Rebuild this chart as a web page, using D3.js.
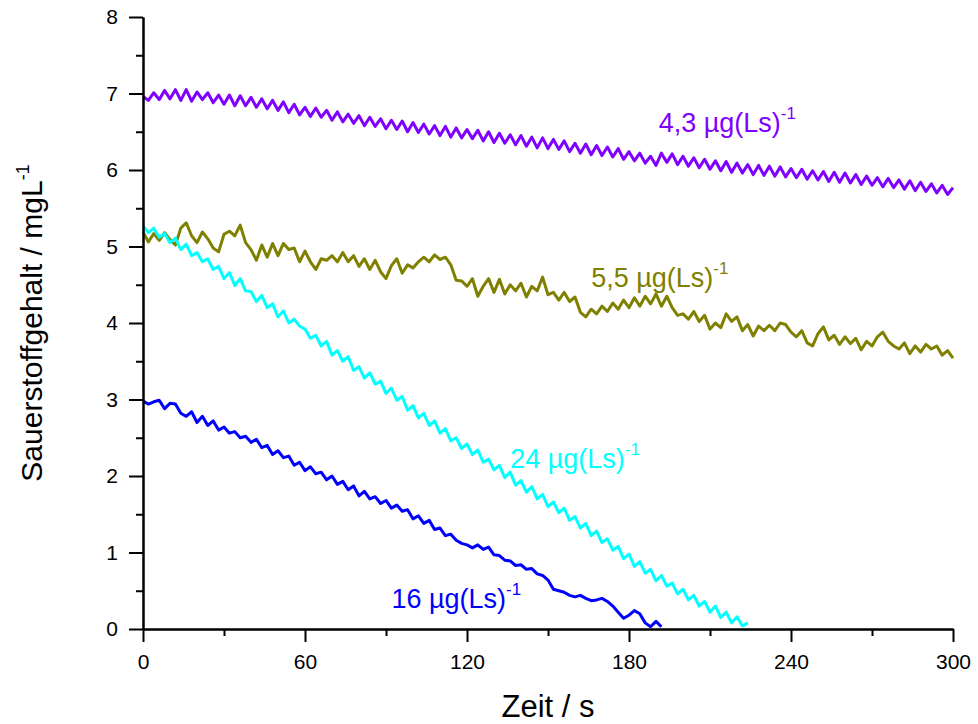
<!DOCTYPE html>
<html>
<head>
<meta charset="utf-8">
<script src="https://cdn.jsdelivr.net/npm/d3@7"></script>
<style>
  body { margin: 0; background: #fff; }
  svg { display: block; font-family: Arial, "Liberation Sans", sans-serif; }
</style>
</head>
<body>
<svg id="chart" width="978" height="724"></svg>
<script>
// time step of the recorded series (seconds)
const tStep = 2;

const xTicks = [0, 60, 120, 180, 240, 300];
const xMinor = [30, 90, 150, 210, 270];
const yTicks = [0, 1, 2, 3, 4, 5, 6, 7, 8];
const yMinor = [0.5, 1.5, 2.5, 3.5, 4.5, 5.5, 6.5, 7.5];

// 4,3 µg(Ls)-1
const o2_43 = [6.96, 6.91, 7.01, 6.92, 7.04, 6.93, 7.05, 6.91, 7.05, 6.90, 7.02, 6.92, 7.01, 6.88, 6.98, 6.86,
  6.98, 6.84, 6.97, 6.84, 6.95, 6.82, 6.93, 6.80, 6.91, 6.78, 6.89, 6.75, 6.86, 6.72, 6.82, 6.70, 6.81, 6.69,
  6.78, 6.65, 6.76, 6.63, 6.73, 6.61, 6.71, 6.58, 6.69, 6.57, 6.67, 6.54, 6.65, 6.53, 6.64, 6.50, 6.62, 6.49,
  6.60, 6.47, 6.58, 6.45, 6.57, 6.43, 6.55, 6.42, 6.53, 6.41, 6.52, 6.38, 6.50, 6.36, 6.48, 6.35, 6.46, 6.33,
  6.45, 6.31, 6.43, 6.29, 6.42, 6.28, 6.40, 6.27, 6.38, 6.24, 6.35, 6.22, 6.34, 6.20, 6.32, 6.19, 6.30, 6.17,
  6.28, 6.14, 6.24, 6.12, 6.22, 6.09, 6.18, 6.06, 6.22, 6.10, 6.21, 6.07, 6.18, 6.05, 6.16, 6.03, 6.14, 6.01,
  6.12, 5.99, 6.11, 5.97, 6.09, 5.96, 6.07, 5.94, 6.06, 5.93, 6.05, 5.92, 6.04, 5.91, 6.02, 5.90, 6.01, 5.88,
  5.99, 5.87, 5.98, 5.85, 5.97, 5.84, 5.96, 5.83, 5.94, 5.81, 5.92, 5.80, 5.90, 5.78, 5.89, 5.77, 5.87, 5.75,
  5.86, 5.73, 5.84, 5.72, 5.82, 5.70, 5.80, 5.68, 5.77];

// 5,5 µg(Ls)-1
const o2_55 = [5.19, 5.06, 5.17, 5.08, 5.18, 5.09, 5.02, 5.24, 5.31, 5.14, 5.05, 5.19, 5.10, 4.98, 4.93, 5.16,
  5.20, 5.14, 5.28, 5.05, 4.96, 4.82, 5.02, 4.86, 5.04, 4.88, 5.04, 4.96, 4.98, 4.80, 4.94, 4.80, 4.70, 4.84,
  4.82, 4.88, 4.80, 4.92, 4.80, 4.88, 4.74, 4.84, 4.70, 4.82, 4.67, 4.58, 4.75, 4.84, 4.65, 4.76, 4.72, 4.80,
  4.86, 4.80, 4.89, 4.83, 4.86, 4.76, 4.56, 4.55, 4.48, 4.58, 4.35, 4.48, 4.58, 4.40, 4.57, 4.38, 4.50, 4.42,
  4.52, 4.34, 4.48, 4.42, 4.60, 4.37, 4.40, 4.30, 4.40, 4.28, 4.34, 4.14, 4.08, 4.18, 4.12, 4.22, 4.15, 4.26,
  4.18, 4.30, 4.20, 4.33, 4.22, 4.35, 4.25, 4.38, 4.22, 4.35, 4.20, 4.10, 4.12, 4.05, 4.15, 4.02, 4.10, 3.92,
  4.00, 3.94, 4.12, 4.02, 4.08, 3.90, 3.98, 3.83, 3.96, 3.90, 3.97, 3.90, 4.00, 3.98, 3.88, 3.82, 3.90, 3.74,
  3.70, 3.86, 3.95, 3.78, 3.84, 3.72, 3.82, 3.73, 3.80, 3.65, 3.76, 3.70, 3.82, 3.88, 3.76, 3.70, 3.66, 3.74,
  3.60, 3.70, 3.62, 3.72, 3.66, 3.70, 3.58, 3.64, 3.54];

// 24 µg(Ls)-1
const o2_24 = [5.27, 5.18, 5.24, 5.12, 5.17, 5.05, 5.11, 4.96, 5.03, 4.88, 4.92, 4.80, 4.84, 4.70, 4.74, 4.58,
  4.66, 4.49, 4.58, 4.42, 4.41, 4.28, 4.36, 4.20, 4.25, 4.08, 4.16, 4.00, 4.05, 3.96, 3.92, 3.80, 3.84, 3.70,
  3.76, 3.58, 3.64, 3.50, 3.56, 3.38, 3.43, 3.28, 3.35, 3.20, 3.24, 3.08, 3.15, 2.99, 3.04, 2.86, 2.92, 2.76,
  2.82, 2.66, 2.72, 2.56, 2.62, 2.46, 2.50, 2.36, 2.42, 2.28, 2.34, 2.18, 2.22, 2.08, 2.14, 1.98, 2.05, 1.88,
  1.94, 1.79, 1.86, 1.70, 1.76, 1.60, 1.66, 1.52, 1.58, 1.42, 1.47, 1.32, 1.38, 1.22, 1.28, 1.13, 1.18, 1.03,
  1.08, 0.92, 0.98, 0.82, 0.88, 0.73, 0.78, 0.63, 0.70, 0.56, 0.60, 0.46, 0.52, 0.38, 0.44, 0.30, 0.36, 0.22,
  0.30, 0.15, 0.22, 0.08, 0.16, 0.04, 0.08];

// 16 µg(Ls)-1
const o2_16 = [2.98, 2.94, 2.97, 2.99, 2.88, 2.95, 2.94, 2.82, 2.78, 2.84, 2.70, 2.78, 2.66, 2.72, 2.60, 2.64,
  2.56, 2.58, 2.50, 2.52, 2.44, 2.48, 2.37, 2.40, 2.28, 2.33, 2.24, 2.26, 2.14, 2.18, 2.07, 2.12, 2.03, 2.05,
  1.95, 2.00, 1.89, 1.93, 1.82, 1.87, 1.74, 1.80, 1.70, 1.73, 1.64, 1.68, 1.58, 1.62, 1.54, 1.56, 1.44, 1.48,
  1.38, 1.42, 1.30, 1.32, 1.22, 1.24, 1.16, 1.12, 1.10, 1.06, 1.10, 1.04, 1.07, 0.97, 0.96, 0.90, 0.89, 0.83,
  0.84, 0.78, 0.79, 0.72, 0.70, 0.64, 0.52, 0.50, 0.48, 0.44, 0.42, 0.44, 0.40, 0.37, 0.38, 0.40, 0.36, 0.30,
  0.22, 0.14, 0.18, 0.24, 0.20, 0.08, 0.03, 0.10, 0.03];

const seriesNames = ['4,3', '5,5', '24', '16'];
const seriesValues = [o2_43, o2_55, o2_24, o2_16];
const seriesColors = ['#7f00ff', '#808000', '#00ffff', '#0000ff'];
// label anchor in data units (time, oxygen)
const labelPos = [[191, 6.5], [166, 4.47], [136, 2.11], [92, 0.28]];

const svg = d3.select('#chart');
const margin = { top: 17, right: 25, bottom: 95, left: 143 };
const width = +svg.attr('width');
const height = +svg.attr('height');
const innerWidth = width - margin.left - margin.right;
const innerHeight = height - margin.top - margin.bottom;

const xScale = d3.scaleLinear().domain([0, 300]).range([0, innerWidth]);
const yScale = d3.scaleLinear().domain([0, 8]).range([innerHeight, 0]);

const g = svg.append('g')
  .attr('transform', `translate(${margin.left},${margin.top})`);

// curves
const line = d3.line()
  .x((d, i) => xScale(i * tStep))
  .y(d => yScale(d));

seriesValues.forEach((vals, k) => {
  g.append('path')
    .datum(vals)
    .attr('fill', 'none')
    .attr('stroke', seriesColors[k])
    .attr('stroke-width', 3)
    .attr('stroke-linejoin', 'round')
    .attr('d', line);
});

// axes
const xAxis = d3.axisBottom(xScale).tickValues(xTicks).tickSize(13).tickSizeOuter(0).tickPadding(12);
const xAxisMinor = d3.axisBottom(xScale).tickValues(xMinor).tickSize(7).tickSizeOuter(0).tickFormat('');
const yAxis = d3.axisLeft(yScale).tickValues(yTicks).tickSize(14).tickSizeOuter(0).tickPadding(11);
const yAxisMinor = d3.axisLeft(yScale).tickValues(yMinor).tickSize(7).tickSizeOuter(0).tickFormat('');

const styleAxis = sel => {
  sel.selectAll('path, line').attr('stroke', '#000').attr('stroke-width', 2);
  sel.selectAll('text').attr('font-size', 21).attr('fill', '#000')
    .attr('font-family', 'Arial, "Liberation Sans", sans-serif');
};

const dropEmpty = sel => sel.selectAll('text').remove();

g.append('g').attr('transform', `translate(0,${innerHeight})`).call(xAxisMinor).call(dropEmpty).call(styleAxis);
g.append('g').call(yAxisMinor).call(dropEmpty).call(styleAxis);
g.append('g').attr('transform', `translate(0,${innerHeight})`).call(xAxis).call(styleAxis);
g.append('g').call(yAxis).call(styleAxis);

// axis titles
svg.append('text')
  .attr('x', margin.left + innerWidth / 2)
  .attr('y', 717)
  .attr('text-anchor', 'middle')
  .attr('font-size', 31)
  .text('Zeit / s');

const yTitle = svg.append('text')
  .attr('transform', `translate(42,${margin.top + innerHeight / 2}) rotate(-90)`)
  .attr('text-anchor', 'middle')
  .attr('font-size', 30);
yTitle.append('tspan').text('Sauerstoffgehalt / mgL');
yTitle.append('tspan').attr('dy', -13).attr('font-size', 18).text('-1');

// curve labels
seriesNames.forEach((name, k) => {
  const t = g.append('text')
    .attr('x', xScale(labelPos[k][0]))
    .attr('y', yScale(labelPos[k][1]))
    .attr('fill', seriesColors[k])
    .attr('font-size', 27);
  t.append('tspan').text(name + ' µg(Ls)');
  t.append('tspan').attr('dy', -13).attr('font-size', 17).text('-1');
});
</script>
</body>
</html>
